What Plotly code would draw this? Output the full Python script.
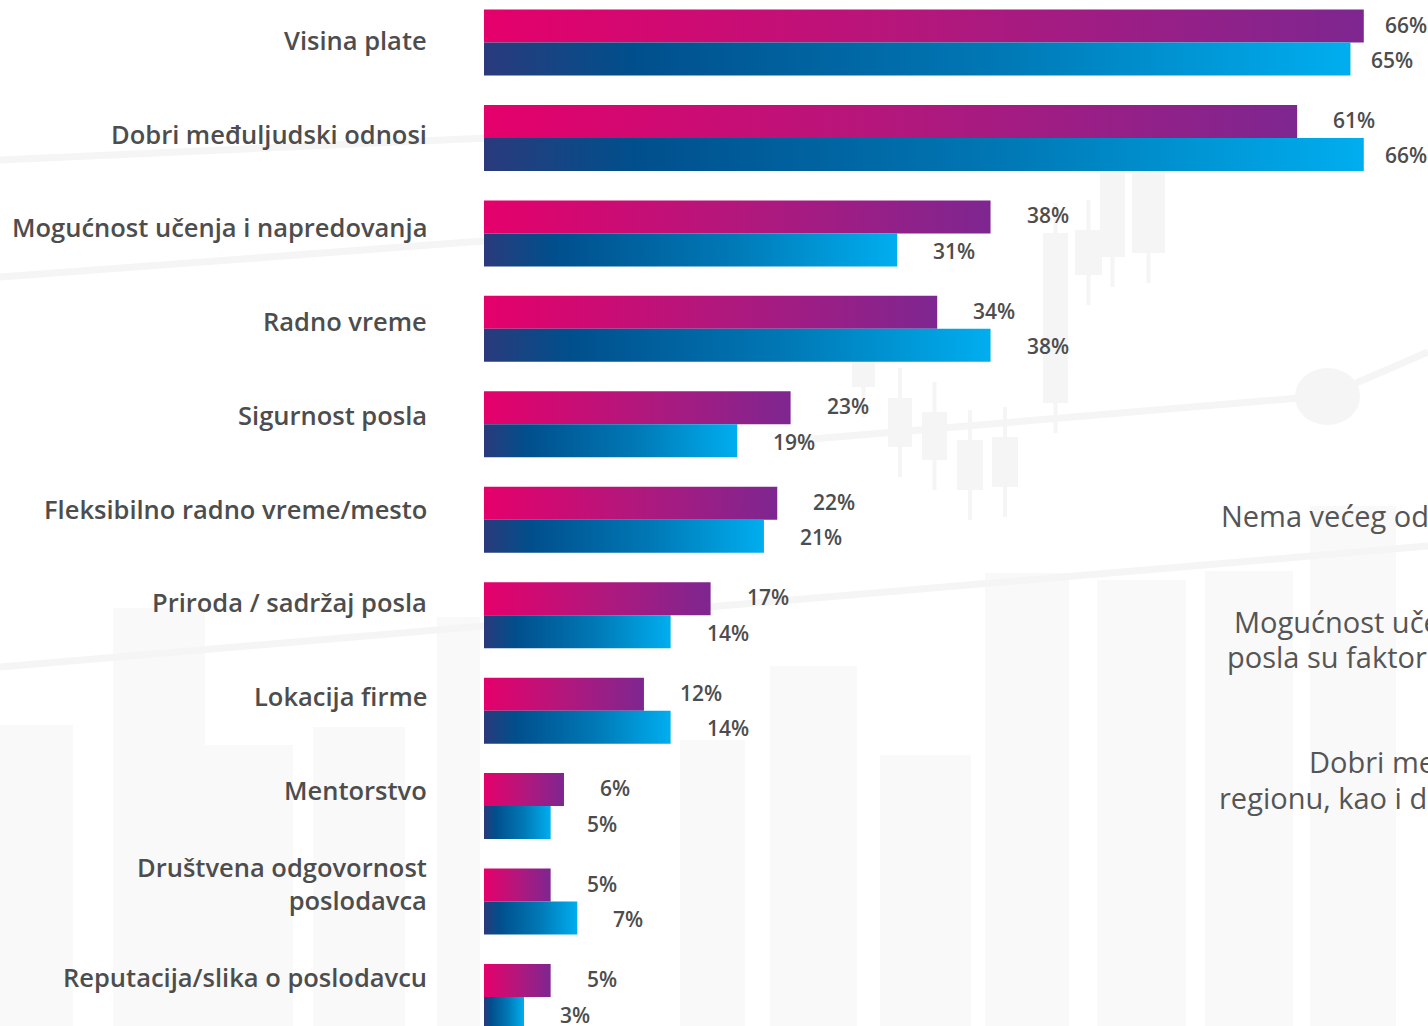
import plotly.graph_objects as go

# ---------------- data ----------------
categories = [
    "Visina plate",
    "Dobri međuljudski odnosi",
    "Mogućnost učenja i napredovanja",
    "Radno vreme",
    "Sigurnost posla",
    "Fleksibilno radno vreme/mesto",
    "Priroda / sadržaj posla",
    "Lokacija firme",
    "Mentorstvo",
    "Društvena odgovornost<br>poslodavca",
    "Reputacija/slika o poslodavcu",
]
series_pink = [66, 61, 38, 34, 23, 22, 17, 12, 6, 5, 5]
series_blue = [65, 66, 31, 38, 19, 21, 14, 14, 5, 7, 3]

side_text = [
    "Nema većeg odstupanja",
    "Mogućnost učenja i napredovanja i priroda",
    "posla su faktori",
    "Dobri međuljudski odnosi",
    "regionu, kao i d",
]

# ---------------- style ----------------
W, H = 1428, 1026
L_MARGIN = 484
PLOT_W = W - L_MARGIN
PX_PER_PCT = 13.33
X_MAX = PLOT_W / PX_PER_PCT
ROW0_PX = 42.5
ROW_PX = 95.45
HALF = 33.0 / ROW_PX          # bar thickness in row units
LABEL_STEP = 93.7 / ROW_PX    # category labels are set slightly tighter than the bars

PINK = [[0, "#e5006b"], [0.5, "#b3177c"], [1, "#7e2690"]]
BLUE = [[0, "#2a3a7b"], [0.17, "#004f8c"], [0.6, "#0079b6"], [1, "#00aeef"]]
TXT = "#4d4d4d"
FONT = "Open Sans"

fig = go.Figure()

n = len(categories)
for i in range(n):
    vp = series_pink[i]
    vb = series_blue[i]
    fig.add_trace(go.Scatter(
        x=[0, vp, vp, 0, 0], y=[i - HALF, i - HALF, i, i, i - HALF],
        mode="none", fill="toself",
        fillgradient=dict(type="horizontal", colorscale=PINK),
        hoverinfo="skip", showlegend=False))
    fig.add_trace(go.Scatter(
        x=[0, vb, vb, 0, 0], y=[i, i, i + HALF, i + HALF, i],
        mode="none", fill="toself",
        fillgradient=dict(type="horizontal", colorscale=BLUE),
        hoverinfo="skip", showlegend=False))

# value labels
def add_value(v, yc, dy):
    end_px = v * PX_PER_PCT
    shift = 19 if end_px > 840 else 34
    fig.add_annotation(x=v, y=yc, text=f"{v}%", xanchor="left", yanchor="middle",
                       xshift=shift, yshift=dy, showarrow=False,
                       font=dict(family=FONT, size=21, color=TXT, weight=600))

for i in range(n):
    add_value(series_pink[i], i - HALF / 2, 1.5)
    add_value(series_blue[i], i + HALF / 2, -1)

# category labels
for i, cat in enumerate(categories):
    fig.add_annotation(xref="paper", x=0, y=i * LABEL_STEP, text=cat,
                       xanchor="right", yanchor="middle", align="right",
                       xshift=-55, yshift=2.5, showarrow=False,
                       font=dict(family=FONT, size=25.5, color=TXT, weight=600))

# ---------------- background decoration (pixel -> paper) ----------------
def px(xp):
    return (xp - L_MARGIN) / PLOT_W

def py(yp):
    return 1 - yp / H

shapes = []
BG1 = "#f9f9f9"
BG2 = "#f5f5f5"
tall_bars = [(0, 725, 73, 1026), (113, 608, 205, 1026), (200, 745, 293, 1026),
             (313, 727, 405, 1026), (437, 617, 480, 1026), (680, 740, 745, 1026),
             (770, 666, 857, 1026), (880, 755, 971, 1026), (985, 573, 1069, 1026),
             (1097, 580, 1186, 1026), (1205, 571, 1293, 1026), (1310, 506, 1396, 1026)]
for x0, y0, x1, y1 in tall_bars:
    shapes.append(dict(type="rect", xref="paper", yref="paper", x0=px(x0), x1=px(x1),
                       y0=py(y1), y1=py(y0), fillcolor=BG1, line=dict(width=0), layer="below"))
candles = [(888, 398, 912, 447), (922, 412, 947, 460), (957, 440, 983, 490),
           (992, 437, 1018, 487), (1043, 233, 1068, 403), (1075, 230, 1102, 275),
           (1100, 170, 1125, 257), (1132, 170, 1165, 253), (852, 353, 875, 387)]
for x0, y0, x1, y1 in candles:
    xm = (x0 + x1) / 2
    shapes.append(dict(type="line", xref="paper", yref="paper", x0=px(xm), x1=px(xm),
                       y0=py(y1 + 30), y1=py(y0 - 30), line=dict(color=BG2, width=4), layer="below"))
    shapes.append(dict(type="rect", xref="paper", yref="paper", x0=px(x0), x1=px(x1),
                       y0=py(y1), y1=py(y0), fillcolor=BG2, line=dict(width=0), layer="below"))
lines = [((0, 160), (1000, 115)), ((0, 277), (700, 225)), ((0, 667), (1428, 546)),
         ((800, 440), (1300, 398)), ((1340, 390), (1428, 352))]
for (x0, y0), (x1, y1) in lines:
    shapes.append(dict(type="line", xref="paper", yref="paper", x0=px(x0), x1=px(x1),
                       y0=py(y0), y1=py(y1), line=dict(color=BG2, width=7), layer="below"))
shapes.append(dict(type="circle", xref="paper", yref="paper", x0=px(1295), x1=px(1360),
                   y0=py(425), y1=py(368), fillcolor=BG2, line=dict(width=0), layer="below"))

# side text (clipped at the right edge, as in the source)
side_pos = [(1219, 515), (1232, 621), (1225, 656), (1307, 761), (1217, 797)]
for t, (xp, yp) in zip(side_text, side_pos):
    fig.add_annotation(xref="paper", yref="paper", x=px(xp), y=py(yp), text=t,
                       xanchor="left", yanchor="middle", showarrow=False,
                       font=dict(family=FONT, size=29, color="#555555"))

fig.update_layout(
    width=W, height=H,
    margin=dict(l=L_MARGIN, r=0, t=0, b=0),
    paper_bgcolor="white", plot_bgcolor="rgba(0,0,0,0)",
    shapes=shapes,
    showlegend=False,
    xaxis=dict(range=[0, X_MAX], visible=False, fixedrange=True),
    yaxis=dict(
        range=[(H - ROW0_PX) / ROW_PX, -ROW0_PX / ROW_PX],
        visible=False, fixedrange=True,
    ),
)

fig.write_html("out.html", config={"displayModeBar": False},
               post_script="document.body.style.margin='0';document.body.style.overflow='hidden';")
